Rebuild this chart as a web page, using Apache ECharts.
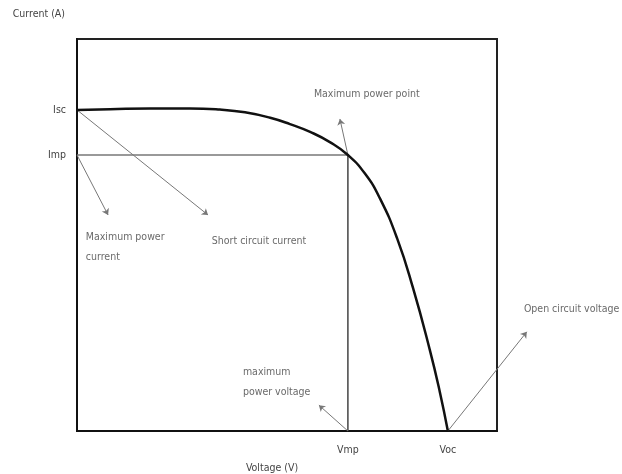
<!DOCTYPE html>
<html>
<head>
<meta charset="utf-8">
<script src="https://cdn.jsdelivr.net/npm/echarts@6/dist/echarts.min.js"></script>
<style>html,body{margin:0;padding:0;background:#fff}#c{width:622px;height:474px}</style>
</head>
<body>
<div id="c"></div>
<script>
// I-V curve (voltage %, current %)
const curveV = [0, 7.9, 17.4, 26.9, 34.0, 40.0, 46.0, 50.7, 55.5, 60.2, 64.5, 68.6, 72.1, 76.2, 80.0, 84.0, 86.4, 88.3];
const curveI = [81.9, 82.1, 82.3, 82.3, 82.0, 81.3, 79.9, 78.3, 76.3, 73.7, 70.4, 65.6, 59.4, 49.2, 36.5, 20.7, 9.9, 0];
const Isc = 81.9, Imp = 70.4, Vmp = 64.5, Voc = 88.3;
const yTickValues = [Isc, Imp];
const yTickLabels = ['Isc', 'Imp'];
const xTickValues = [Vmp, Voc];
const xTickLabels = ['Vmp', 'Voc'];
// annotation arrows: [fromX, fromY, toX, toY]
const arrows = [
  [0, Isc, 31.2, 55.1],
  [0, Imp, 7.4, 55.1],
  [Vmp, Imp, 62.6, 79.6],
  [Vmp, 0, 57.6, 6.6],
  [Voc, 0, 107.1, 25.3]
];
// annotation texts: [x, y, text]
const notes = [
  [2.1, 49.5, 'Maximum power'],
  [2.1, 44.4, 'current'],
  [32.1, 48.5, 'Short circuit current'],
  [56.4, 86.0, 'Maximum power point'],
  [39.5, 15.1, 'maximum'],
  [39.5, 9.9, 'power voltage'],
  [106.4, 31.1, 'Open circuit voltage']
];

const FONT = '"DejaVu Sans Condensed", "Liberation Sans Narrow", "Liberation Sans", sans-serif';
const FS = 10.5;
const TXT = '#444';
const chart = echarts.init(document.getElementById('c'));
chart.setOption({
  animation: false,
  grid: {left: 77, right: 125, top: 39, bottom: 43, show: true, borderColor: '#222', borderWidth: 2,
         containLabel: false, outerBoundsMode: 'none'},
  xAxis: {
    type: 'value', min: 0, max: 100,
    name: 'Voltage (V)', nameLocation: 'middle', nameGap: 32,
    nameTextStyle: {fontFamily: FONT, fontSize: FS, color: TXT, padding: [0, 30, 0, 0]},
    axisLine: {show: true, lineStyle: {color: '#111', width: 2}},
    axisTick: {show: false},
    splitLine: {show: false},
    axisLabel: {
      customValues: xTickValues, fontFamily: FONT, fontSize: FS, color: TXT, margin: 14,
      formatter: v => xTickLabels[xTickValues.indexOf(v)] || ''
    }
  },
  yAxis: {
    type: 'value', min: 0, max: 100,
    name: 'Current (A)', nameLocation: 'end', nameGap: 19,
    nameTextStyle: {fontFamily: FONT, fontSize: FS, color: TXT, align: 'right', padding: [0, 12, 0, 0]},
    axisLine: {show: true, lineStyle: {color: '#111', width: 2}},
    axisTick: {show: false},
    splitLine: {show: false},
    axisLabel: {
      customValues: yTickValues, fontFamily: FONT, fontSize: FS, color: TXT, margin: 11,
      formatter: v => yTickLabels[yTickValues.indexOf(v)] || ''
    }
  },
  series: [
    {
      type: 'line', data: [[0, Imp], [Vmp, Imp]], symbol: 'none',
      lineStyle: {color: '#777', width: 1.5}, z: 1
    },
    {
      type: 'line', data: [[Vmp, Imp], [Vmp, 0]], symbol: 'none',
      lineStyle: {color: '#444', width: 1.5}, z: 1
    },
    {
      type: 'line', data: curveV.map((v, i) => [v, curveI[i]]), symbol: 'none', smooth: 0.5,
      lineStyle: {color: '#111', width: 2.5}, z: 3
    },
    {
      type: 'lines', coordinateSystem: 'cartesian2d', clip: false,
      symbol: ['none', 'arrow'], symbolSize: 6,
      lineStyle: {color: '#777', width: 1, opacity: 1},
      data: arrows.map(a => ({coords: [[a[0], a[1]], [a[2], a[3]]]})), z: 2
    },
    {
      type: 'scatter', clip: false, symbolSize: 0,
      data: notes.map(n => ({value: [n[0], n[1]], name: n[2]})),
      label: {
        show: true, position: [0, 0], align: 'left', verticalAlign: 'middle',
        formatter: p => p.name, fontFamily: FONT, fontSize: FS, color: TXT
      }
    }
  ]
});
</script>
</body>
</html>
